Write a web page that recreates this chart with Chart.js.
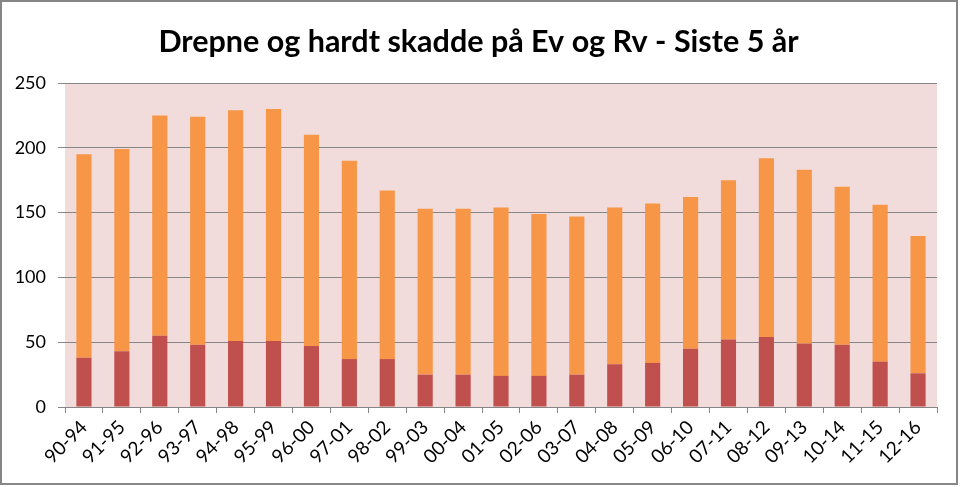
<!DOCTYPE html>
<html>
<head>
<meta charset="utf-8">
<script src="https://cdn.jsdelivr.net/npm/chart.js@4"></script>
<style>
  html, body { margin: 0; padding: 0; background: #fff; }
  #wrap { position: relative; width: 960px; height: 487px; }
  #c { position: absolute; left: 0; top: 0; }
  #frame { position: absolute; left: 0; top: 0; width: 958px; height: 485px; box-sizing: border-box;
           border: 2px solid #868686; pointer-events: none; }
</style>
</head>
<body>
<div id="wrap">
  <canvas id="c" width="960" height="487"></canvas>
  <div id="frame"></div>
</div>
<script>
const categories = ["90-94","91-95","92-96","93-97","94-98","95-99","96-00","97-01","98-02","99-03","00-04","01-05","02-06","03-07","04-08","05-09","06-10","07-11","08-12","09-13","10-14","11-15","12-16"];
const drepneValues = [38,43,55,48,51,51,47,37,37,25,25,24,24,25,33,34,45,52,54,49,48,35,26];
const hardtSkaddeValues = [157,156,170,176,178,179,163,153,130,128,128,130,125,122,121,123,117,123,138,134,122,121,106];
const yTicks = [0,50,100,150,200,250];
const titleText = "Drepne og hardt skadde på Ev og Rv - Siste 5 år";

const plotBg = {
  id: 'plotBg',
  afterLayout(chart) {
    if (chart.titleBlock) { chart.titleBlock.left = 20; }
  },
  beforeDraw(chart) {
    const a = chart.chartArea, ctx = chart.ctx;
    ctx.save();
    ctx.fillStyle = '#F2DCDB';
    ctx.fillRect(a.left, a.top, a.right - a.left, a.bottom - a.top);
    ctx.restore();
  }
};

new Chart(document.getElementById('c'), {
  type: 'bar',
  data: {
    labels: categories,
    datasets: [
      { label: 'Drepte', data: drepneValues, backgroundColor: '#C0504D', barPercentage: 0.4, categoryPercentage: 1.0 },
      { label: 'Hardt skadde', data: hardtSkaddeValues, backgroundColor: '#F79646', barPercentage: 0.4, categoryPercentage: 1.0 }
    ]
  },
  options: {
    responsive: false,
    animation: false,
    layout: { padding: { left: 0, right: 23, top: 0, bottom: 0 } },
    plugins: {
      legend: { display: false },
      tooltip: { enabled: false },
      title: {
        display: true,
        text: titleText,
        color: '#000',
        font: { family: 'Lato', size: 30.5, weight: 'bold', lineHeight: 1.2 },
        padding: { top: 24, bottom: 22.4 }
      }
    },
    scales: {
      x: {
        stacked: true,
        afterFit(s) { s.height = 80; },
        grid: { drawOnChartArea: false, drawTicks: true, tickLength: 6, color: '#868686', offset: true },
        border: { display: true, color: '#868686', width: 1 },
        ticks: { color: '#000', font: { family: 'Lato', size: 19 }, maxRotation: 45, minRotation: 45, autoSkip: false, padding: 3 }
      },
      y: {
        stacked: true,
        min: 0, max: 250,
        afterFit(s) { s.width = 65; },
        afterBuildTicks(s) { s.ticks = yTicks.map(v => ({ value: v })); },
        grid: { color: '#868686', tickLength: 7, drawTicks: true },
        border: { display: false },
        ticks: { color: '#000', font: { family: 'Lato', size: 18 }, padding: 12 }
      }
    }
  },
  plugins: [plotBg]
});
</script>
</body>
</html>
